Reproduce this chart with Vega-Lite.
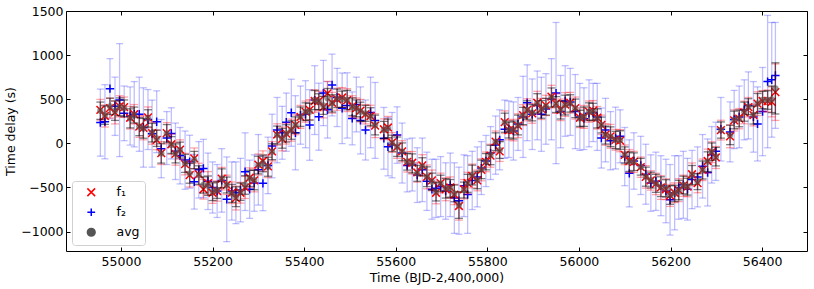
{
 "$schema": "https://vega.github.io/schema/vega-lite/v6.json",
 "width": 741,
 "height": 240,
 "autosize": {"type": "none"},
 "padding": {"left": 66, "top": 11, "right": 7, "bottom": 38},
 "config": {
  "font": "DejaVu Sans",
  "view": {"stroke": "#000", "strokeWidth": 1},
  "axis": {"grid": false, "domain": false, "tickSize": -4, "tickColor": "#000", "tickWidth": 1, "labelFontSize": 12.5, "labelColor": "#000", "titleFontSize": 12.5, "titleColor": "#000", "titleFontWeight": "normal", "labelFont": "DejaVu Sans", "titleFont": "DejaVu Sans", "labelFlush": false},
  "legend": {"orient": "bottom-left", "offset": 6, "padding": 5, "fillColor": "white", "strokeColor": "#d0d0d0", "cornerRadius": 3, "labelFontSize": 12.5, "labelFont": "DejaVu Sans", "labelColor": "#000", "symbolSize": 60, "symbolStrokeWidth": 1.5, "rowPadding": 5, "symbolOffset": 8, "labelOffset": 19}
 },
 "data": {"values": [
  {"t":54955,"a":370,"ea":98,"f1":380,"e1":118,"f2":235,"e2":380},
  {"t":54965,"a":320,"ea":105,"f1":310,"e1":125,"f2":245,"e2":420},
  {"t":54976,"a":420,"ea":92,"f1":400,"e1":112,"f2":620,"e2":340},
  {"t":54987,"a":370,"ea":110,"f1":350,"e1":130,"f2":420,"e2":330},
  {"t":54997,"a":415,"ea":100,"f1":420,"e1":120,"f2":490,"e2":640},
  {"t":55007,"a":397,"ea":95,"f1":410,"e1":115,"f2":340,"e2":310},
  {"t":55020,"a":283,"ea":108,"f1":290,"e1":128,"f2":310,"e2":330},
  {"t":55029,"a":321,"ea":90,"f1":330,"e1":110,"f2":330,"e2":370},
  {"t":55040,"a":189,"ea":102,"f1":190,"e1":122,"f2":330,"e2":420},
  {"t":55049,"a":170,"ea":112,"f1":175,"e1":135,"f2":180,"e2":450},
  {"t":55059,"a":283,"ea":98,"f1":295,"e1":118,"f2":270,"e2":340},
  {"t":55068,"a":121,"ea":105,"f1":115,"e1":125,"f2":110,"e2":380},
  {"t":55078,"a":57,"ea":92,"f1":40,"e1":112,"f2":245,"e2":350},
  {"t":55088,"a":-114,"ea":110,"f1":-110,"e1":130,"f2":-60,"e2":330},
  {"t":55100,"a":113,"ea":100,"f1":115,"e1":120,"f2":60,"e2":300},
  {"t":55110,"a":-19,"ea":95,"f1":-10,"e1":115,"f2":113,"e2":290},
  {"t":55119,"a":-114,"ea":108,"f1":-120,"e1":128,"f2":-90,"e2":320},
  {"t":55129,"a":-76,"ea":90,"f1":-70,"e1":110,"f2":-140,"e2":320},
  {"t":55140,"a":-227,"ea":102,"f1":-235,"e1":122,"f2":-190,"e2":330},
  {"t":55150,"a":-340,"ea":112,"f1":-360,"e1":135,"f2":-208,"e2":300},
  {"t":55160,"a":-189,"ea":98,"f1":-170,"e1":118,"f2":-435,"e2":310},
  {"t":55170,"a":-359,"ea":105,"f1":-350,"e1":125,"f2":-300,"e2":320},
  {"t":55180,"a":-472,"ea":92,"f1":-520,"e1":112,"f2":-284,"e2":330},
  {"t":55190,"a":-480,"ea":110,"f1":-450,"e1":130,"f2":-430,"e2":320},
  {"t":55200,"a":-548,"ea":100,"f1":-560,"e1":120,"f2":-500,"e2":290},
  {"t":55210,"a":-529,"ea":95,"f1":-540,"e1":115,"f2":-540,"e2":300},
  {"t":55220,"a":-397,"ea":108,"f1":-400,"e1":128,"f2":-420,"e2":360},
  {"t":55231,"a":-472,"ea":90,"f1":-470,"e1":110,"f2":-634,"e2":480},
  {"t":55242,"a":-567,"ea":102,"f1":-560,"e1":122,"f2":-540,"e2":330},
  {"t":55251,"a":-605,"ea":112,"f1":-620,"e1":135,"f2":-560,"e2":350},
  {"t":55261,"a":-548,"ea":98,"f1":-560,"e1":118,"f2":-530,"e2":360},
  {"t":55271,"a":-472,"ea":105,"f1":-500,"e1":125,"f2":-321,"e2":440},
  {"t":55281,"a":-397,"ea":92,"f1":-390,"e1":112,"f2":-520,"e2":330},
  {"t":55291,"a":-416,"ea":110,"f1":-420,"e1":130,"f2":-450,"e2":320},
  {"t":55300,"a":-246,"ea":100,"f1":-240,"e1":120,"f2":-300,"e2":400},
  {"t":55310,"a":-227,"ea":95,"f1":-200,"e1":115,"f2":-453,"e2":310},
  {"t":55321,"a":-265,"ea":108,"f1":-260,"e1":128,"f2":-250,"e2":320},
  {"t":55330,"a":-95,"ea":90,"f1":-90,"e1":110,"f2":-30,"e2":360},
  {"t":55341,"a":94,"ea":102,"f1":100,"e1":122,"f2":150,"e2":370},
  {"t":55352,"a":57,"ea":112,"f1":50,"e1":135,"f2":120,"e2":300},
  {"t":55361,"a":113,"ea":98,"f1":110,"e1":118,"f2":240,"e2":330},
  {"t":55372,"a":151,"ea":105,"f1":150,"e1":125,"f2":347,"e2":380},
  {"t":55381,"a":208,"ea":92,"f1":210,"e1":112,"f2":120,"e2":420},
  {"t":55392,"a":302,"ea":110,"f1":300,"e1":130,"f2":320,"e2":330},
  {"t":55403,"a":359,"ea":100,"f1":360,"e1":120,"f2":330,"e2":380},
  {"t":55412,"a":359,"ea":95,"f1":380,"e1":115,"f2":208,"e2":400},
  {"t":55423,"a":491,"ea":108,"f1":480,"e1":128,"f2":490,"e2":390},
  {"t":55432,"a":472,"ea":90,"f1":480,"e1":110,"f2":302,"e2":380},
  {"t":55442,"a":430,"ea":102,"f1":410,"e1":122,"f2":570,"e2":370},
  {"t":55451,"a":510,"ea":112,"f1":567,"e1":135,"f2":380,"e2":320},
  {"t":55461,"a":453,"ea":98,"f1":460,"e1":118,"f2":661,"e2":350},
  {"t":55472,"a":510,"ea":105,"f1":500,"e1":125,"f2":520,"e2":330},
  {"t":55483,"a":500,"ea":92,"f1":520,"e1":112,"f2":397,"e2":400},
  {"t":55494,"a":491,"ea":110,"f1":490,"e1":130,"f2":430,"e2":370},
  {"t":55505,"a":415,"ea":100,"f1":420,"e1":120,"f2":283,"e2":300},
  {"t":55514,"a":397,"ea":95,"f1":400,"e1":115,"f2":440,"e2":310},
  {"t":55523,"a":359,"ea":108,"f1":370,"e1":128,"f2":260,"e2":380},
  {"t":55534,"a":340,"ea":90,"f1":330,"e1":110,"f2":151,"e2":340},
  {"t":55545,"a":302,"ea":102,"f1":310,"e1":122,"f2":350,"e2":400},
  {"t":55555,"a":208,"ea":112,"f1":200,"e1":135,"f2":260,"e2":430},
  {"t":55574,"a":151,"ea":98,"f1":160,"e1":118,"f2":57,"e2":350},
  {"t":55583,"a":170,"ea":105,"f1":180,"e1":125,"f2":-38,"e2":330},
  {"t":55592,"a":0,"ea":92,"f1":10,"e1":112,"f2":-20,"e2":370},
  {"t":55603,"a":-38,"ea":110,"f1":-40,"e1":130,"f2":94,"e2":320},
  {"t":55614,"a":-95,"ea":100,"f1":-90,"e1":120,"f2":-110,"e2":340},
  {"t":55625,"a":-208,"ea":95,"f1":-210,"e1":115,"f2":-250,"e2":300},
  {"t":55636,"a":-227,"ea":108,"f1":-220,"e1":128,"f2":-240,"e2":300},
  {"t":55647,"a":-340,"ea":90,"f1":-330,"e1":110,"f2":-360,"e2":310},
  {"t":55658,"a":-265,"ea":102,"f1":-250,"e1":122,"f2":-300,"e2":360},
  {"t":55668,"a":-378,"ea":112,"f1":-380,"e1":135,"f2":-430,"e2":330},
  {"t":55679,"a":-435,"ea":98,"f1":-420,"e1":118,"f2":-520,"e2":340},
  {"t":55688,"a":-548,"ea":105,"f1":-560,"e1":125,"f2":-510,"e2":330},
  {"t":55698,"a":-453,"ea":92,"f1":-450,"e1":112,"f2":-490,"e2":340},
  {"t":55709,"a":-510,"ea":110,"f1":-520,"e1":130,"f2":-540,"e2":320},
  {"t":55719,"a":-510,"ea":100,"f1":-500,"e1":120,"f2":-470,"e2":360},
  {"t":55728,"a":-567,"ea":95,"f1":-580,"e1":115,"f2":-620,"e2":400},
  {"t":55738,"a":-700,"ea":150,"f1":-710,"e1":160,"f2":-650,"e2":380},
  {"t":55749,"a":-529,"ea":90,"f1":-520,"e1":110,"f2":-480,"e2":350},
  {"t":55757,"a":-453,"ea":102,"f1":-450,"e1":122,"f2":-580,"e2":440},
  {"t":55767,"a":-359,"ea":112,"f1":-370,"e1":135,"f2":-420,"e2":330},
  {"t":55778,"a":-416,"ea":98,"f1":-420,"e1":118,"f2":-380,"e2":340},
  {"t":55787,"a":-295,"ea":105,"f1":-300,"e1":125,"f2":-280,"e2":300},
  {"t":55797,"a":-208,"ea":92,"f1":-210,"e1":112,"f2":-200,"e2":290},
  {"t":55807,"a":-132,"ea":110,"f1":-140,"e1":130,"f2":-110,"e2":300},
  {"t":55818,"a":19,"ea":100,"f1":20,"e1":120,"f2":-20,"e2":330},
  {"t":55827,"a":-76,"ea":95,"f1":-90,"e1":115,"f2":40,"e2":340},
  {"t":55838,"a":234,"ea":108,"f1":240,"e1":128,"f2":160,"e2":330},
  {"t":55847,"a":151,"ea":90,"f1":150,"e1":110,"f2":160,"e2":320},
  {"t":55857,"a":151,"ea":102,"f1":150,"e1":122,"f2":140,"e2":330},
  {"t":55867,"a":208,"ea":112,"f1":200,"e1":135,"f2":220,"e2":300},
  {"t":55878,"a":310,"ea":98,"f1":320,"e1":118,"f2":300,"e2":460},
  {"t":55887,"a":378,"ea":105,"f1":380,"e1":125,"f2":460,"e2":430},
  {"t":55898,"a":347,"ea":92,"f1":340,"e1":112,"f2":330,"e2":400},
  {"t":55909,"a":453,"ea":110,"f1":460,"e1":130,"f2":430,"e2":390},
  {"t":55918,"a":385,"ea":100,"f1":390,"e1":120,"f2":330,"e2":420},
  {"t":55928,"a":415,"ea":95,"f1":430,"e1":115,"f2":390,"e2":400},
  {"t":55940,"a":520,"ea":108,"f1":530,"e1":128,"f2":500,"e2":460},
  {"t":55950,"a":440,"ea":90,"f1":450,"e1":110,"f2":570,"e2":800},
  {"t":55960,"a":378,"ea":102,"f1":380,"e1":122,"f2":360,"e2":410},
  {"t":55970,"a":434,"ea":112,"f1":440,"e1":135,"f2":480,"e2":400},
  {"t":55981,"a":453,"ea":98,"f1":460,"e1":118,"f2":470,"e2":380},
  {"t":55992,"a":397,"ea":105,"f1":400,"e1":125,"f2":360,"e2":420},
  {"t":56002,"a":283,"ea":92,"f1":290,"e1":112,"f2":300,"e2":380},
  {"t":56011,"a":302,"ea":110,"f1":300,"e1":130,"f2":280,"e2":350},
  {"t":56022,"a":359,"ea":100,"f1":360,"e1":120,"f2":340,"e2":380},
  {"t":56031,"a":359,"ea":95,"f1":370,"e1":115,"f2":350,"e2":330},
  {"t":56040,"a":283,"ea":108,"f1":290,"e1":128,"f2":300,"e2":380},
  {"t":56049,"a":208,"ea":90,"f1":210,"e1":110,"f2":60,"e2":340},
  {"t":56058,"a":94,"ea":102,"f1":100,"e1":122,"f2":150,"e2":360},
  {"t":56069,"a":75,"ea":112,"f1":80,"e1":135,"f2":30,"e2":330},
  {"t":56080,"a":38,"ea":98,"f1":40,"e1":118,"f2":60,"e2":350},
  {"t":56090,"a":38,"ea":105,"f1":30,"e1":125,"f2":80,"e2":300},
  {"t":56100,"a":-132,"ea":92,"f1":-130,"e1":112,"f2":-150,"e2":330},
  {"t":56110,"a":-208,"ea":110,"f1":-200,"e1":130,"f2":-340,"e2":380},
  {"t":56120,"a":-208,"ea":100,"f1":-210,"e1":120,"f2":-200,"e2":320},
  {"t":56135,"a":-265,"ea":95,"f1":-270,"e1":115,"f2":-250,"e2":330},
  {"t":56146,"a":-378,"ea":108,"f1":-380,"e1":128,"f2":-350,"e2":340},
  {"t":56157,"a":-416,"ea":90,"f1":-420,"e1":110,"f2":-450,"e2":320},
  {"t":56168,"a":-453,"ea":102,"f1":-460,"e1":122,"f2":-430,"e2":330},
  {"t":56179,"a":-491,"ea":112,"f1":-500,"e1":135,"f2":-480,"e2":340},
  {"t":56190,"a":-510,"ea":98,"f1":-520,"e1":118,"f2":-540,"e2":360},
  {"t":56199,"a":-586,"ea":105,"f1":-590,"e1":125,"f2":-640,"e2":400},
  {"t":56209,"a":-567,"ea":92,"f1":-560,"e1":112,"f2":-560,"e2":420},
  {"t":56218,"a":-529,"ea":110,"f1":-530,"e1":130,"f2":-500,"e2":360},
  {"t":56228,"a":-472,"ea":100,"f1":-480,"e1":120,"f2":-470,"e2":380},
  {"t":56237,"a":-491,"ea":95,"f1":-490,"e1":115,"f2":-520,"e2":350},
  {"t":56247,"a":-359,"ea":108,"f1":-350,"e1":128,"f2":-410,"e2":330},
  {"t":56259,"a":-434,"ea":90,"f1":-450,"e1":110,"f2":-380,"e2":340},
  {"t":56270,"a":-302,"ea":102,"f1":-300,"e1":122,"f2":-260,"e2":360},
  {"t":56281,"a":-208,"ea":112,"f1":-200,"e1":135,"f2":-330,"e2":380},
  {"t":56290,"a":-94,"ea":98,"f1":-100,"e1":118,"f2":-130,"e2":320},
  {"t":56299,"a":-151,"ea":105,"f1":-160,"e1":125,"f2":-90,"e2":330},
  {"t":56310,"a":151,"ea":92,"f1":150,"e1":112,"f2":160,"e2":360},
  {"t":56330,"a":95,"ea":110,"f1":80,"e1":130,"f2":130,"e2":340},
  {"t":56339,"a":265,"ea":100,"f1":260,"e1":120,"f2":270,"e2":330},
  {"t":56350,"a":283,"ea":95,"f1":280,"e1":115,"f2":300,"e2":350},
  {"t":56361,"a":359,"ea":108,"f1":350,"e1":128,"f2":380,"e2":340},
  {"t":56370,"a":416,"ea":90,"f1":410,"e1":110,"f2":430,"e2":380},
  {"t":56381,"a":321,"ea":102,"f1":320,"e1":122,"f2":300,"e2":400},
  {"t":56390,"a":453,"ea":112,"f1":450,"e1":135,"f2":220,"e2":420},
  {"t":56401,"a":491,"ea":98,"f1":480,"e1":118,"f2":360,"e2":500},
  {"t":56412,"a":491,"ea":105,"f1":480,"e1":125,"f2":700,"e2":750},
  {"t":56421,"a":499,"ea":150,"f1":470,"e1":170,"f2":720,"e2":650},
  {"t":56429,"a":623,"ea":290,"f1":580,"e1":320,"f2":770,"e2":600}
 ]},
 "encoding": {
  "x": {"field": "t", "type": "quantitative", "scale": {"domain": [54880, 56498], "nice": false, "zero": false}, "title": "Time (BJD-2,400,000)", "axis": {"format": "d", "tickCount": 8, "labelPadding": 8, "titlePadding": 4}}
 },
 "layer": [
  {"mark": {"type": "errorbar", "ticks": true, "size": 7, "thickness": 1.3, "color": "#0000ff", "opacity": 0.25},
   "encoding": {"y": {"field": "f2", "type": "quantitative", "scale": {"domain": [-1220, 1500], "nice": false, "zero": false}, "title": "Time delay (s)", "axis": {"format": "d", "tickCount": 6, "labelPadding": 7, "titlePadding": 3}}, "yError": {"field": "e2"}}},
  {"mark": {"type": "point", "filled": false, "strokeWidth": 1.5, "size": 70, "opacity": 1},
   "encoding": {"x": {"field": "t", "type": "quantitative", "axis": null},
    "y": {"field": "f2", "type": "quantitative", "axis": null},
    "color": {"datum": "f₂", "scale": {"domain": ["f₁", "f₂", "avg"], "range": ["#ff0000", "#0000ff", "#555555"]}, "legend": {"title": null, "encode": {"symbols": {"update": {"fill": {"scale": "color", "field": "value"}, "stroke": {"scale": "color", "field": "value"}, "opacity": {"signal": "datum.value === 'avg' ? 0.75 : 1"}}}, "labels": {"update": {"fontStyle": {"signal": "datum.value === 'avg' ? 'normal' : 'italic'"}}}}}},
    "shape": {"datum": "f₂", "scale": {"domain": ["f₁", "f₂", "avg"], "range": ["M-1,-1L1,1M-1,1L1,-1", "M-1,0H1M0,-1V1", "circle"]}, "legend": {"title": null}}}},
  {"mark": {"type": "errorbar", "ticks": true, "size": 8, "thickness": 1.3, "color": "#ff0000", "opacity": 0.35},
   "encoding": {"x": {"field": "t", "type": "quantitative", "axis": null}, "y": {"field": "f1", "type": "quantitative", "axis": null}, "yError": {"field": "e1"}}},
  {"mark": {"type": "point", "filled": false, "strokeWidth": 1.5, "size": 60, "opacity": 1},
   "encoding": {"x": {"field": "t", "type": "quantitative", "axis": null},
    "y": {"field": "f1", "type": "quantitative", "axis": null},
    "color": {"datum": "f₁"},
    "shape": {"datum": "f₁"}}},
  {"mark": {"type": "errorbar", "ticks": true, "size": 8, "thickness": 1.3, "color": "#000000", "opacity": 0.5},
   "encoding": {"x": {"field": "t", "type": "quantitative", "axis": null}, "y": {"field": "a", "type": "quantitative", "axis": null}, "yError": {"field": "ea"}}},
  {"mark": {"type": "point", "filled": true, "size": 40, "opacity": 0.6},
   "encoding": {"x": {"field": "t", "type": "quantitative", "axis": {"orient": "top", "labels": false, "title": null, "tickCount": 8}},
    "y": {"field": "a", "type": "quantitative", "axis": {"orient": "right", "labels": false, "title": null, "tickCount": 6}},
    "color": {"datum": "avg"},
    "shape": {"datum": "avg"}}}
 ],
 "resolve": {"axis": {"x": "independent", "y": "independent"}}
}
